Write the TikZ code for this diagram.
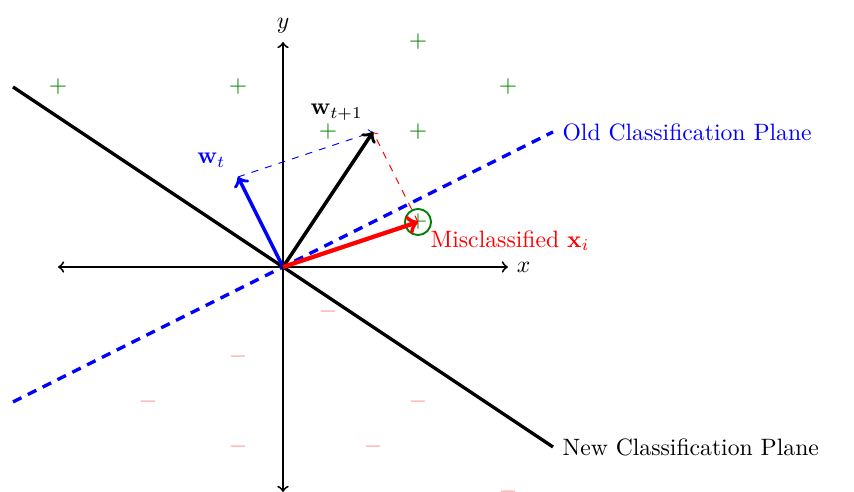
\documentclass[tikz,border=0pt]{standalone}
\usetikzlibrary{arrows,calc}
\begin{document}
\begin{tikzpicture}[x=0.668cm,y=0.668cm,
  axis/.style={thick,<->},
  vec/.style={line width=1.5pt,->},
  plane/.style={line width=1.4pt},
  planedash/.style={dash pattern=on 4pt off 3pt},
  guide/.style={dashed,->},
  pluspt/.style={text=green!50!black,inner sep=0pt},
  minuspt/.style={text=red!45,inner sep=0pt}]
\useasboundingbox (-6.289,-5) rectangle (12.689,5.933);
% axes
\coordinate (xl) at (-5,0); \coordinate (xr) at (5,0);
\coordinate (yb) at (0,-5); \coordinate (yt) at (0,5);
\coordinate (o) at (0,0);
\draw[axis] (xl) -- (xr) node[right] (xlab) {$x$};
\draw[axis] (yb) -- (yt) node[above] (ylab) {$y$};
% planes
\coordinate (op1) at (-6,-3); \coordinate (op2) at (6,3);
\coordinate (np1) at (-6,4); \coordinate (np2) at (6,-4);
\draw[plane,blue,planedash] (op1) -- (op2) node[right,text=blue] (oldlab) {Old Classification Plane};
\draw[plane] (np1) -- (np2) node[right] (newlab) {New Classification Plane};
% points
\foreach \p/\q in {a/{-5,4},b/{-1,4},c/{3,5},d/{5,4},e/{1,3},f/{3,3}}
  \node[pluspt] (p\p) at (\q) {$+$};
\foreach \p/\q in {a/{1,-1},b/{-1,-2},c/{-3,-3},d/{3,-3},e/{-1,-4},f/{2,-4},g/{5,-5}}
  \node[minuspt] (n\p) at (\q) {$-$};
\node[pluspt] (xi) at (3,1) {$+$};
\draw[green!50!black,thick] (xi) circle (0.29);
% vectors
\coordinate (wt) at (-1,2); \coordinate (wt1) at (2,3);
\draw[guide,blue] (wt) -- (wt1);
\draw[guide,red] (xi.center) -- (wt1);
\draw[vec,blue] (o) -- (wt);
\draw[vec] (o) -- (wt1);
\draw[vec,red,line width=1.8pt] (o) -- (xi.center);
\node[anchor=south east,text=blue,inner sep=0pt] (wtlab) at (-1.27,2.2) {$\mathbf{w}_t$};
\node[anchor=south east,inner sep=0pt] (wt1lab) at (1.78,3.25) {$\mathbf{w}_{t+1}$};
\node[anchor=north west,text=red,inner sep=0pt] (xilab) at (3.27,0.82) {Misclassified $\mathbf{x}_i$};
\end{tikzpicture}
\end{document}
